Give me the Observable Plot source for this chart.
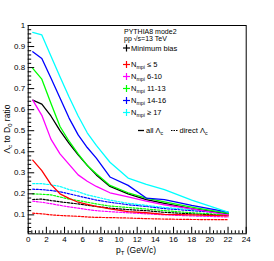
<!DOCTYPE html>
<html><head><meta charset="utf-8">
<script src="https://cdn.jsdelivr.net/npm/d3@7"></script>
<script src="https://cdn.jsdelivr.net/npm/@observablehq/plot@0.6"></script>
<style>body{margin:0;background:#fff} svg{display:block}</style>
</head><body><div id="chart"></div>
<script>
// ---- data ----
const pT = [0.5, 1.5, 2.5, 3.5, 4.5, 5.5, 6.5, 7.5, 9, 11, 13, 15, 18, 22];
const seriesKeys = ["MB", "N5", "N6_10", "N11_13", "N14_16", "N17"];
const seriesColors = ["#000000", "#ff0000", "#ff00ff", "#00ff00", "#0000ff", "#00ffff"];
const legendLabels = ["Minimum bias", "≤ 5", "6-10", "11-13", "14-16", "≥ 17"];

// all Λc / D0 (solid)
const allMB     = [0.645, 0.626, 0.57, 0.50, 0.44, 0.385, 0.335, 0.29, 0.235, 0.20, 0.172, 0.155, 0.13, 0.105];
const allN5     = [0.36, 0.31, 0.245, 0.20, 0.178, 0.16, 0.15, 0.14, 0.128, 0.115, 0.11, 0.102, 0.10, 0.095];
const allN6_10  = [0.645, 0.573, 0.46, 0.39, 0.34, 0.29, 0.26, 0.235, 0.205, 0.185, 0.165, 0.148, 0.128, 0.10];
const allN11_13 = [0.796, 0.745, 0.63, 0.52, 0.45, 0.39, 0.335, 0.295, 0.24, 0.205, 0.18, 0.162, 0.137, 0.107];
const allN14_16 = [0.875, 0.843, 0.75, 0.655, 0.56, 0.48, 0.42, 0.37, 0.28, 0.24, 0.18, 0.172, 0.145, 0.113];
const allN17    = [0.967, 0.955, 0.855, 0.756, 0.66, 0.57, 0.49, 0.43, 0.35, 0.275, 0.245, 0.22, 0.17, 0.113];

// direct Λc / D0 (dotted)
const dirMB     = [0.173, 0.175, 0.168, 0.162, 0.157, 0.152, 0.146, 0.14, 0.132, 0.125, 0.12, 0.112, 0.105, 0.098];
const dirN5     = [0.108, 0.105, 0.10, 0.097, 0.095, 0.093, 0.09, 0.088, 0.087, 0.085, 0.082, 0.08, 0.078, 0.077];
const dirN6_10  = [0.165, 0.16, 0.153, 0.145, 0.138, 0.132, 0.125, 0.12, 0.115, 0.11, 0.105, 0.10, 0.095, 0.09];
const dirN11_13 = [0.20, 0.198, 0.195, 0.185, 0.175, 0.168, 0.16, 0.152, 0.142, 0.135, 0.128, 0.12, 0.11, 0.10];
const dirN14_16 = [0.222, 0.22, 0.216, 0.21, 0.20, 0.19, 0.18, 0.17, 0.16, 0.148, 0.14, 0.13, 0.12, 0.108];
const dirN17    = [0.248, 0.248, 0.243, 0.235, 0.22, 0.21, 0.195, 0.185, 0.17, 0.155, 0.145, 0.135, 0.125, 0.113];

const xMajorTicks = [0, 2, 4, 6, 8, 10, 12, 14, 16, 18, 20, 22, 24];
const yMajorTicks = [0.1, 0.2, 0.3, 0.4, 0.5, 0.6, 0.7, 0.8, 0.9, 1];

// ---- build tables ----
const allSets = [allMB, allN5, allN6_10, allN11_13, allN14_16, allN17];
const dirSets = [dirMB, dirN5, dirN6_10, dirN11_13, dirN14_16, dirN17];
const allRows = [], dirRows = [];
seriesKeys.forEach((k, i) => {
  allSets[i].forEach((v, j) => allRows.push({series: k, color: seriesColors[i], pT: pT[j], v}));
  dirSets[i].forEach((v, j) => dirRows.push({series: k, color: seriesColors[i], pT: pT[j], v}));
});
const xMinor = d3.range(0, 24.001, 0.4).filter(d => Math.abs(d / 2 - Math.round(d / 2)) > 1e-6);
const yMinor = d3.range(0.02, 1.0001, 0.02).filter(d => Math.abs(d * 10 - Math.round(d * 10)) > 1e-6);

const W = 274, H = 261, mL = 27.7, mR = 28.3, mT = 25, mB = 27.7;
const innerW = W - mL - mR, innerH = H - mT - mB;
const FONT = "'Liberation Sans', Arial, Helvetica, sans-serif";

const svg = Plot.plot({
  width: W, height: H,
  marginLeft: mL, marginRight: mR, marginTop: mT, marginBottom: mB,
  style: {fontFamily: FONT, fontSize: "8px", background: "#fff", color: "#000"},
  x: {domain: [0, 24]},
  y: {domain: [0.01, 1]},
  color: {type: "identity"},
  marks: [
    Plot.line(dirRows, {x: "pT", y: "v", z: "series", stroke: "color", strokeWidth: 1.2, strokeDasharray: "2,1.5"}),
    Plot.line(allRows, {x: "pT", y: "v", z: "series", stroke: "color", strokeWidth: 1.3}),
    Plot.tickX(xMinor, {x: d => d, insetTop: innerH - 3, stroke: "#000", strokeWidth: 1}),
    Plot.tickX(xMajorTicks, {x: d => d, insetTop: innerH - 6.5, stroke: "#000", strokeWidth: 1}),
    Plot.tickY(yMinor, {y: d => d, insetRight: innerW - 3.5, stroke: "#000", strokeWidth: 1}),
    Plot.tickY(yMajorTicks, {y: d => d, insetRight: innerW - 6.5, stroke: "#000", strokeWidth: 1}),
    Plot.axisX(xMajorTicks, {tickSize: 0, tickPadding: 3, label: null, tickFormat: d => String(d), fontSize: 8}),
    Plot.axisY(yMajorTicks, {tickSize: 0, tickPadding: 3, label: null, tickFormat: d => d === 1 ? "1" : d.toFixed(1), fontSize: 8}),
    Plot.frame({stroke: "#000", strokeWidth: 1})
  ]
});
document.getElementById("chart").appendChild(svg);

// ---- texts with subscripts ----
const root = d3.select(svg).append("g").attr("font-family", FONT).attr("fill", "#000");
function rich(x, y, parts, size, opts = {}) {
  const t = root.append("text").attr("x", x).attr("y", y).attr("font-size", size)
    .attr("text-anchor", opts.anchor || "start");
  if (opts.rotate) t.attr("transform", `rotate(${opts.rotate},${x},${y})`);
  let pendingUp = 0;
  parts.forEach(p => {
    if (typeof p === "string") {
      const s = t.append("tspan").text(p);
      if (pendingUp) { s.attr("dy", -pendingUp); pendingUp = 0; }
    } else {
      const off = size * 0.28;
      t.append("tspan").attr("font-size", size * 0.7).attr("dy", off + (pendingUp ? -pendingUp : 0)).text(p.sub);
      pendingUp = off;
    }
  });
  return t;
}

// axis titles
rich(156, 253, ["p", {sub: "T"}, " (GeV/c)"], 8.5, {anchor: "end"});
rich(10, 129, ["Λ", {sub: "c"}, " to D", {sub: "0"}, " ratio"], 8.5, {anchor: "middle", rotate: -90});

// legend header
rich(124, 33.5, ["PYTHIA8 mode2"], 7);
rich(124, 41, ["pp √s=13 TeV"], 7);

const rowY = [48, 64.5, 76.5, 88.5, 100.5, 112.5];
seriesKeys.forEach((k, i) => {
  const y = rowY[i];
  root.append("line").attr("x1", 123).attr("x2", 130).attr("y1", y).attr("y2", y)
    .attr("stroke", seriesColors[i]).attr("stroke-width", 1.2);
  root.append("line").attr("x1", 126.5).attr("x2", 126.5).attr("y1", y - 3.5).attr("y2", y + 3.5)
    .attr("stroke", seriesColors[i]).attr("stroke-width", 1.2);
  if (i === 0) rich(131, y + 2.6, [legendLabels[i]], 7.5);
  else rich(131, y + 2.6, ["N", {sub: "mpi"}, " " + legendLabels[i]], 7.5);
});

// line-style legend
root.append("line").attr("x1", 138).attr("x2", 144).attr("y1", 130.5).attr("y2", 130.5)
  .attr("stroke", "#000").attr("stroke-width", 1.3);
rich(146, 133, ["all Λ", {sub: "c"}], 7.5);
root.append("line").attr("x1", 171).attr("x2", 178).attr("y1", 130.5).attr("y2", 130.5)
  .attr("stroke", "#000").attr("stroke-width", 1.2).attr("stroke-dasharray", "1.5,1");
rich(179.5, 133, ["direct Λ", {sub: "c"}], 7.5);
</script>
</body></html>
